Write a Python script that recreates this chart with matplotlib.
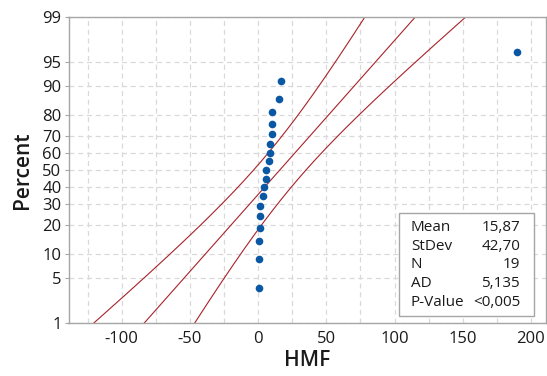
import numpy as np
import matplotlib
matplotlib.use("Agg")
import matplotlib.pyplot as plt
from statistics import NormalDist

# HMF observations (sorted)
hmf = [0.5, 0.5, 0.5, 1.2, 1.5, 1.7, 3.7, 4.6, 5.6, 5.9,
       8.1, 8.8, 8.8, 9.8, 10.5, 10.5, 15.1, 16.8, 190.0]

# Summary statistics shown in the table
mean_val = 15.87
sd_val = 42.70
n_obs = 19
ad_val = "5,135"
p_val = "<0,005"

pct_ticks = [1, 5, 10, 20, 30, 40, 50, 60, 70, 80, 90, 95, 99]
x_ticks = [-100, -50, 0, 50, 100, 150, 200]

nd = NormalDist()
z = lambda p: nd.inv_cdf(p)

plt.rcParams['font.family'] = ['Open Sans', 'DejaVu Sans']
plt.rcParams['axes.unicode_minus'] = False

fig = plt.figure(figsize=(5.47, 3.76), dpi=100)
ax = fig.add_axes([68.5 / 547, 53 / 376, (546 - 68.5) / 547, (323 - 17) / 376])

# median-rank plotting positions
n = len(hmf)
ranks = np.arange(1, n + 1)
pp = (ranks - 0.3) / (n + 0.4)
zpts = [z(p) for p in pp]

# fitted line and 95% confidence band
zlo, zhi = z(0.01), z(0.99)
zz = np.linspace(zlo, zhi, 200)
fit = mean_val + zz * sd_val
half = 1.96 * np.sqrt(sd_val ** 2 / n_obs * (1 + zz ** 2 / 2))
red = '#a8232a'
ax.plot(fit, zz, color=red, lw=0.8)
ax.plot(fit - half, zz, color=red, lw=0.8)
ax.plot(fit + half, zz, color=red, lw=0.8)

ax.plot(hmf, zpts, 'o', color='#0a57a4', ms=5.5, mec='none', zorder=5)

ax.set_xlim(-139, 211)
ax.set_ylim(zlo, zhi)
ax.set_yticks([z(p / 100) for p in pct_ticks])
ax.set_yticklabels([str(p) for p in pct_ticks])
ax.set_xticks(x_ticks)
ax.set_xticks(np.arange(-125, 211, 50), minor=True)

ax.grid(True, which='both', color='#d9d9d9', ls=(0, (4, 3)), lw=0.9)
ax.set_axisbelow(True)
for s in ax.spines.values():
    s.set_color('#a6a6a6')
    s.set_linewidth(1.0)
ax.tick_params(axis='both', which='major', colors='#a6a6a6', length=3,
               labelsize=12, labelcolor='#1a1a1a', pad=2)
for lab in ax.get_xticklabels() + ax.get_yticklabels():
    lab.set_fontweight(500)
ax.tick_params(axis='x', which='minor', length=0)
ax.tick_params(axis='x', which='major', length=0, pad=6)

ax.set_xlabel('HMF', fontsize=15, color='#1a1a1a', labelpad=2, fontweight=600)
ax.set_ylabel('Percent', fontsize=15, color='#1a1a1a', labelpad=7, fontweight=600)

# statistics table
bx0, by0, bx1, by1 = 398.7, 213, 534, 316
box = plt.Rectangle((bx0 / 547, 1 - by1 / 376), (bx1 - bx0) / 547, (by1 - by0) / 376,
                    transform=fig.transFigure, facecolor='white',
                    edgecolor='#a6a6a6', lw=1.0, zorder=10)
fig.patches.append(box)
rows = [('Mean', '15,87'), ('StDev', '42,70'), ('N', str(n_obs)),
        ('AD', ad_val), ('P-Value', p_val)]
for i, (k, v) in enumerate(rows):
    yy = 1 - (227.5 + i * 18.7) / 376
    fig.text(411 / 547, yy, k, fontsize=11, color='#1a1a1a', va='center', ha='left',
             zorder=11, fontweight=500)
    fig.text(520 / 547, yy, v, fontsize=11, color='#1a1a1a', va='center', ha='right',
             zorder=11, fontweight=500)

fig.savefig('out.png', dpi=100)
